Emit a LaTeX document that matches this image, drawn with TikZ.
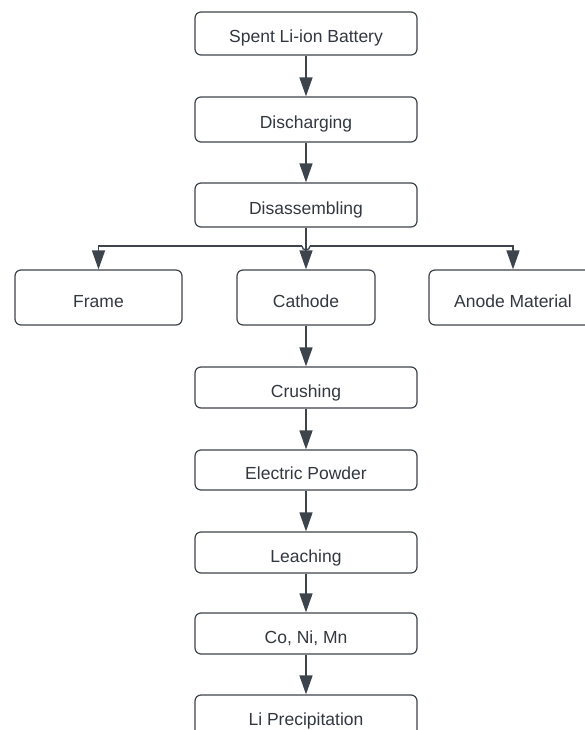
\documentclass[tikz,border=0pt]{standalone}
\usepackage{fontspec}
\setmainfont{Liberation Sans}
\usetikzlibrary{arrows.meta}
\definecolor{edgecol}{HTML}{3E444C}
\definecolor{txtcol}{HTML}{333840}
\tikzset{
  procbox/.style={draw=edgecol, line width=1.2pt, rounded corners=6pt, fill=white,
    text=txtcol, font=\fontsize{17.5}{20}\selectfont, text height=19pt, text depth=0pt,
    inner sep=0pt, minimum width=222pt, minimum height=43pt},
  sidebox/.style={procbox, minimum height=55pt},
  conn/.style={draw=edgecol, line width=1.4pt, -{Triangle[length=19pt,width=13pt]}},
  plainline/.style={draw=edgecol, line width=1.4pt}
}
\begin{document}
\begin{tikzpicture}[x=1pt,y=-1pt]
\useasboundingbox (0,0) rectangle (585,730);
\clip (0,0) rectangle (585,730);
% main column
\node[procbox] (spent) at (306,33.5) {Spent Li-ion Battery};
\node[procbox, minimum height=45pt] (dis) at (306,119.5) {Discharging};
\node[procbox, minimum height=44pt] (dasm) at (306,205) {Disassembling};
\node[sidebox, minimum width=167pt] (frame) at (98.5,297.5) {Frame};
\node[sidebox, minimum width=138pt] (cath) at (306,297.5) {Cathode};
\node[sidebox, minimum width=168pt] (anode) at (513,297.5) {Anode Material};
\node[procbox, minimum height=41pt] (crush) at (306,387.5) {Crushing};
\node[procbox, minimum height=40pt] (powder) at (306,470) {Electric Powder};
\node[procbox, minimum height=41pt] (leach) at (306,552.5) {Leaching};
\node[procbox, minimum height=41pt] (cnm) at (306,633.5) {Co, Ni, Mn};
\node[procbox, minimum height=42pt] (liprec) at (306,716) {Li Precipitation};
% connectors
\draw[conn] (spent) -- (dis);
\draw[conn] (dis) -- (dasm);
\draw[conn] (dasm) -- (cath);
\coordinate (jl) at (302,246);
\coordinate (jr) at (310,246);
\draw[conn] (jl) -| (frame.north);
\draw[conn] (jr) -| (anode.north);
\draw[plainline] (jl) arc[start angle=180, end angle=0, radius=4];
\draw[conn] (cath) -- (crush);
\draw[conn] (crush) -- (powder);
\draw[conn] (powder) -- (leach);
\draw[conn] (leach) -- (cnm);
\draw[conn] (cnm) -- (liprec);
\end{tikzpicture}
\end{document}
